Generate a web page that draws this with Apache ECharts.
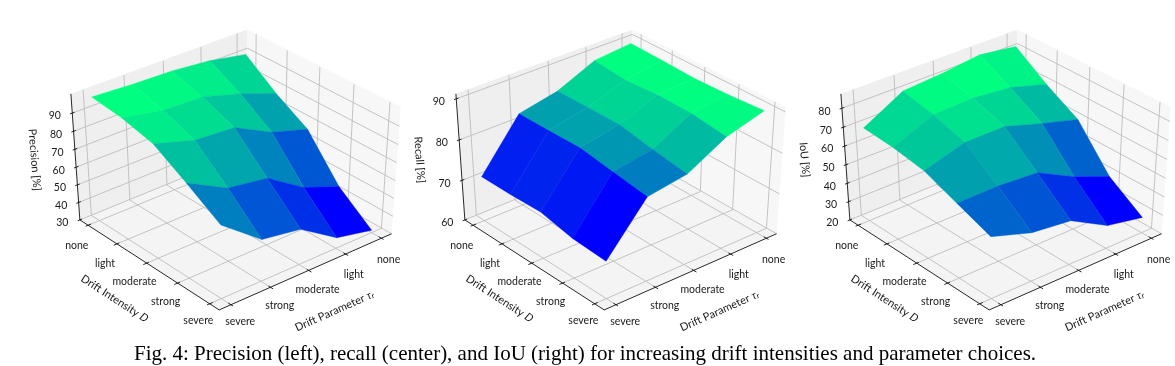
<!DOCTYPE html>
<html>
<head>
<meta charset="utf-8">
<title>Fig. 4</title>
<script src="https://cdn.jsdelivr.net/npm/echarts@6/dist/echarts.min.js"></script>
<style>
html, body { margin: 0; padding: 0; background: #fff; }
#main { width: 1175px; height: 366px; }
</style>
</head>
<body>
<div id="main"></div>
<script>
// rows: drift intensity none..severe, columns: tau severe..none
const intensityLabels = ['none', 'light', 'moderate', 'strong', 'severe'];
const parameterLabels = ['severe', 'strong', 'moderate', 'light', 'none'];

const precision = [
    [99.3, 98.2, 97.7, 95.6, 91.4],
    [97.6, 93.5, 92.8, 86.6, 78.7],
    [93.5, 87.0, 85.7, 74.8, 68.2],
    [82.5, 71.1, 67.9, 54.0, 45.9],
    [70.5, 53.5, 50.1, 36.3, 31.5]
];
const recall = [
    [71.1, 83.0, 85.0, 89.1, 89.9],
    [71.3, 83.2, 85.3, 88.4, 89.8],
    [71.6, 83.4, 85.4, 89.0, 89.5],
    [69.9, 82.1, 83.8, 88.8, 89.7],
    [69.2, 80.7, 82.3, 87.5, 90.1]
];
const iou = [
    [70.1, 81.8, 83.5, 85.9, 83.0],
    [69.3, 78.7, 79.5, 77.5, 71.6],
    [66.8, 73.5, 73.8, 67.6, 61.9],
    [59.9, 60.4, 59.1, 48.7, 40.7],
    [52.7, 46.1, 43.8, 32.6, 28.4]
];

const precisionTicks = [30, 40, 50, 60, 70, 80, 90];
const recallTicks = [60, 70, 80, 90];
const iouTicks = [20, 30, 40, 50, 60, 70, 80];

const panels = [
    { name: 'Precision [%]', values: precision, ticks: precisionTicks, zMin: 30, zMax: 100.5, dx: 0 },
    { name: 'Recall [%]', values: recall, ticks: recallTicks, zMin: 60, zMax: 91.2, dx: 385 },
    { name: 'IoU [%]', values: iou, ticks: iouTicks, zMin: 20, zMax: 87.5, dx: 770 }
];

// camera, same for all three axes
const elev = 30 * Math.PI / 180;
const azim = 40 * Math.PI / 180;
// horizontal and vertical convergence fit the picture best with different distances
const distX = 7;
const distY = 14;
const boxA = 1.19;
const boxC = 0.797;
const margin = 0.0635;

const right = [Math.sin(azim), Math.cos(azim), 0];
const up = [-Math.sin(elev) * Math.cos(azim), Math.sin(elev) * Math.sin(azim), Math.cos(elev)];
const toEye = [Math.cos(elev) * Math.cos(azim), -Math.cos(elev) * Math.sin(azim), Math.sin(elev)];

function dot(a, b) { return a[0] * b[0] + a[1] * b[1] + a[2] * b[2]; }

// u: along D, v: along tau, w: height, all 0..1
function project(u, v, w) {
    const p = [(u - 0.5) * boxA, (v - 0.5) * boxA, (w - 0.5) * boxC];
    const depth = dot(p, toEye);
    return [dot(p, right) * distX / (distX - depth), dot(p, up) * distY / (distY - depth)];
}

function gridPos(i) { return margin + (1 - 2 * margin) * i / 4; }

// winter colormap
function winter(t) {
    return 'rgb(0,' + Math.round(255 * t) + ',' + Math.round(255 - 127.5 * t) + ')';
}

const PANE_FLOOR = '#f4f4f4';
const PANE_LEFT = '#efefef';
const PANE_BACK = '#f7f7f7';
const GRID_COLOR = '#bdbdbd';
const TEXT_COLOR = '#1a1a1a';
const LABEL_FONT = 'Lato, "Noto Sans", sans-serif';

function renderBox(panel) {
    return function (params, api) {
        const pt = (u, v, w) => api.coord(project(u, v, w));
        const poly = (corners, fill) => ({
            type: 'polygon',
            shape: { points: corners.map(c => pt(c[0], c[1], c[2])) },
            style: { fill: fill, stroke: null }
        });
        const line = (a, b, color, width) => {
            const p = pt(a[0], a[1], a[2]), q = pt(b[0], b[1], b[2]);
            return {
                type: 'line',
                shape: { x1: p[0], y1: p[1], x2: q[0], y2: q[1] },
                style: { stroke: color, lineWidth: width, fill: null }
            };
        };
        const text = (p, str, ox, oy, extra) => ({
            type: 'text',
            x: p[0] + ox,
            y: p[1] + oy,
            rotation: (extra && extra.rotation) || 0,
            style: Object.assign({
                text: str,
                fill: TEXT_COLOR,
                font: '10.5px ' + LABEL_FONT,
                align: 'center',
                verticalAlign: 'middle'
            }, extra && extra.style)
        });

        const kids = [
            poly([[0, 0, 0], [1, 0, 0], [1, 1, 0], [0, 1, 0]], PANE_FLOOR),
            poly([[0, 0, 0], [0, 1, 0], [0, 1, 1], [0, 0, 1]], PANE_LEFT),
            poly([[0, 1, 0], [1, 1, 0], [1, 1, 1], [0, 1, 1]], PANE_BACK)
        ];

        // grid lines run across the floor and then up the far wall
        for (let i = 0; i < 5; i++) {
            const g = gridPos(i);
            kids.push(line([g, 0, 0], [g, 1, 0], GRID_COLOR, 0.9));
            kids.push(line([g, 1, 0], [g, 1, 1], GRID_COLOR, 0.9));
            kids.push(line([1, g, 0], [0, g, 0], GRID_COLOR, 0.9));
            kids.push(line([0, g, 0], [0, g, 1], GRID_COLOR, 0.9));
        }
        const zFrac = z => (z - panel.zMin) / (panel.zMax - panel.zMin);
        panel.ticks.forEach(z => {
            const w = zFrac(z);
            kids.push(line([0, 0, w], [0, 1, w], GRID_COLOR, 0.9));
            kids.push(line([0, 1, w], [1, 1, w], GRID_COLOR, 0.9));
        });

        // the three black axis lines with ticks
        kids.push(line([0, 0, 0], [0, 0, 1], '#111', 0.9));
        kids.push(line([0, 0, 0], [1, 0, 0], '#111', 0.9));
        kids.push(line([1, 0, 0], [1, 1, 0], '#111', 0.9));
        for (let i = 0; i < 5; i++) {
            const g = gridPos(i);
            kids.push(line([g, -0.012, 0], [g, 0.018, 0], '#111', 0.9));
            kids.push(line([1.012, g, 0], [0.982, g, 0], '#111', 0.9));
            kids.push(text(pt(g, 0, 0), intensityLabels[i], -11, 20 - 0.8 * i));
            kids.push(text(pt(1, g, 0), parameterLabels[i], 9 - 0.5 * i, 17 + i));
        }
        panel.ticks.forEach(z => {
            const w = zFrac(z);
            kids.push(line([0, -0.012, w], [0, 0.012, w], '#111', 0.9));
            kids.push(text(pt(0, 0, w), String(z), -17.5, 3));
        });

        // axis titles
        kids.push(text(pt(0.5, 0, 0), '{a|Drift Intensity }{b|D}', -31, 35, {
            rotation: -33 * Math.PI / 180,
            style: { rich: {
                a: { font: '11px ' + LABEL_FONT, fill: TEXT_COLOR },
                b: { font: 'italic 11px ' + LABEL_FONT, fill: TEXT_COLOR }
            } }
        }));
        kids.push(text(pt(1, 0.5, 0), '{a|Drift Parameter }{b|τ}{c|r}', 25, 40, {
            rotation: 24 * Math.PI / 180,
            style: { rich: {
                a: { font: '11px ' + LABEL_FONT, fill: TEXT_COLOR },
                b: { font: 'italic 11px ' + LABEL_FONT, fill: TEXT_COLOR },
                c: { font: 'italic 8px ' + LABEL_FONT, fill: TEXT_COLOR, verticalAlign: 'bottom' }
            } }
        }));
        kids.push(text(pt(0, 0, 0.5), panel.name, -41, 2, {
            rotation: -85.5 * Math.PI / 180,
            style: { font: '11px ' + LABEL_FONT }
        }));

        return { type: 'group', children: kids };
    };
}

function surfaceData(panel) {
    const v = panel.values;
    const cells = [];
    // far cells first, so nearer ones paint over them
    for (let i = 0; i < 4; i++) {
        for (let j = 3; j >= 0; j--) {
            cells.push([i, j, (v[i][j] + v[i + 1][j] + v[i][j + 1] + v[i + 1][j + 1]) / 4]);
        }
    }
    return cells;
}

function renderCell(panel, meanMin, meanMax) {
    return function (params, api) {
        const i = api.value(0), j = api.value(1);
        const color = winter((api.value(2) - meanMin) / (meanMax - meanMin));
        const range = panel.zMax - panel.zMin;
        const pt = (a, b) => api.coord(project(gridPos(a), gridPos(b), (panel.values[a][b] - panel.zMin) / range));
        return {
            type: 'polygon',
            shape: { points: [pt(i, j), pt(i + 1, j), pt(i + 1, j + 1), pt(i, j + 1)] },
            style: { fill: color, stroke: color, lineWidth: 0.4 }
        };
    };
}

const grids = [], xAxes = [], yAxes = [], series = [];
panels.forEach((panel, k) => {
    // 191.2 px per unit across, must stay inside the page or the grid gets squeezed
    grids.push({ left: 4.9 + panel.dx, top: 1.45, width: 397.7, height: 346.2 });
    xAxes.push({ type: 'value', gridIndex: k, min: -1.2, max: 0.88, show: false });
    yAxes.push({ type: 'value', gridIndex: k, min: -1.0, max: 0.89, show: false });
    const cells = surfaceData(panel);
    const means = cells.map(c => c[2]);
    series.push({
        type: 'custom',
        xAxisIndex: k,
        yAxisIndex: k,
        silent: true,
        z: 1,
        data: [[0, 0]],
        renderItem: renderBox(panel)
    });
    series.push({
        type: 'custom',
        name: panel.name,
        xAxisIndex: k,
        yAxisIndex: k,
        silent: true,
        z: 2,
        encode: { x: 0, y: 1 },
        data: cells,
        renderItem: renderCell(panel, Math.min.apply(null, means), Math.max.apply(null, means))
    });
});

const myChart = echarts.init(document.getElementById('main'), null, { renderer: 'canvas' });
myChart.setOption({
    backgroundColor: '#fff',
    animation: false,
    title: {
        text: 'Fig. 4: Precision (left), recall (center), and IoU (right) for increasing drift intensities and parameter choices.',
        left: 134,
        top: 344,
        padding: 0,
        textStyle: {
            fontFamily: '"Liberation Serif", serif',
            fontSize: 21,
            fontWeight: 'normal',
            color: '#000'
        }
    },
    grid: grids,
    xAxis: xAxes,
    yAxis: yAxes,
    series: series
});
</script>
</body>
</html>
